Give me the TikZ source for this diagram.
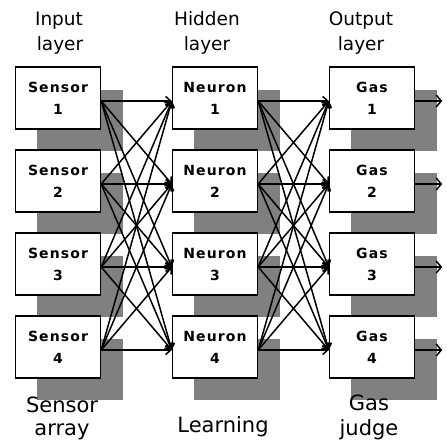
\documentclass[tikz,border=0pt]{standalone}
\usepackage{fontspec}
\setmainfont{DejaVu Sans}
\newfontfamily\boxfont{DejaVu Sans}[LetterSpace=8]
\usetikzlibrary{arrows.meta}
\pgfdeclarelayer{bg}
\pgfsetlayers{bg,main}

\begin{document}
\begin{tikzpicture}[x=1pt,y=-1pt,
  unitbox/.style={draw=black, line width=1.4pt, fill=white,
    minimum width=85pt, minimum height=62pt, inner sep=0pt, align=center,
    font=\boxfont\bfseries\fontsize{14}{22}\selectfont},
  shadebox/.style={fill=black!50, draw=none},
  link/.style={line width=1.5pt, -{Straight Barb[length=5pt,width=9pt]}},
  outlink/.style={line width=1.5pt, -{Straight Barb[length=5pt,width=12pt]}},
  title/.style={font=\fontsize{18.5}{25}\selectfont, anchor=base, inner sep=0pt},
  caption/.style={font=\fontsize{21}{25}\selectfont, anchor=base, inner sep=0pt}]

\useasboundingbox (0,0) rectangle (447,442);

% layer headings
\node[title] (inA) at (59,25) {Input};
\node[title] (inB) at (60,50) {layer};
\node[title] (hidA) at (207,25) {Hidden};
\node[title] (hidB) at (207,50) {layer};
\node[title] (outA) at (361,25) {Output};
\node[title] (outB) at (361,50) {layer};

% the three columns of units
\foreach \i/\t in {1/67,2/150,3/233,4/316} {
  \node[unitbox] (s\i) at (58,{\t+31}) {Sensor\\\i};
  \node[unitbox] (h\i) at (215,{\t+31}) {Neuron\\\i};
  \node[unitbox] (g\i) at (372,{\t+31}) {Gas\\\i};
  \coordinate (sa\i) at ([yshift=-3pt]s\i.east);
  \coordinate (hi\i) at ([yshift=-3pt]h\i.west);
  \coordinate (ho\i) at ([yshift=-3pt]h\i.east);
  \coordinate (gi\i) at ([yshift=-3pt]g\i.west);
  \coordinate (go\i) at ([yshift=-3pt]g\i.east);
  \coordinate (ge\i) at ([xshift=27pt]go\i);
}

% drop shadows behind the units
\begin{pgfonlayer}{bg}
  \foreach \b in {s1,s2,s3,s4,h1,h2,h3,h4,g1,g2,g3,g4} {
    \fill[shadebox] ([shift={(22,24)}]\b.north west) rectangle ([shift={(22,21)}]\b.south east);
  }
\end{pgfonlayer}

% fully connected layers
\foreach \i in {1,...,4} {
  \foreach \j in {1,...,4} {
    \draw[link] (sa\i) -- (hi\j);
    \draw[link] (ho\i) -- (gi\j);
  }
  \draw[outlink] (go\i) -- (ge\i);
}

% captions under the columns
\node[caption] (capSa) at (62,412) {Sensor};
\node[caption] (capSb) at (62,435) {array};
\node[caption] (capL) at (223,432) {Learning};
\node[caption] (capGa) at (369,410) {Gas};
\node[caption] (capGb) at (369,435) {judge};
\end{tikzpicture}
\end{document}
